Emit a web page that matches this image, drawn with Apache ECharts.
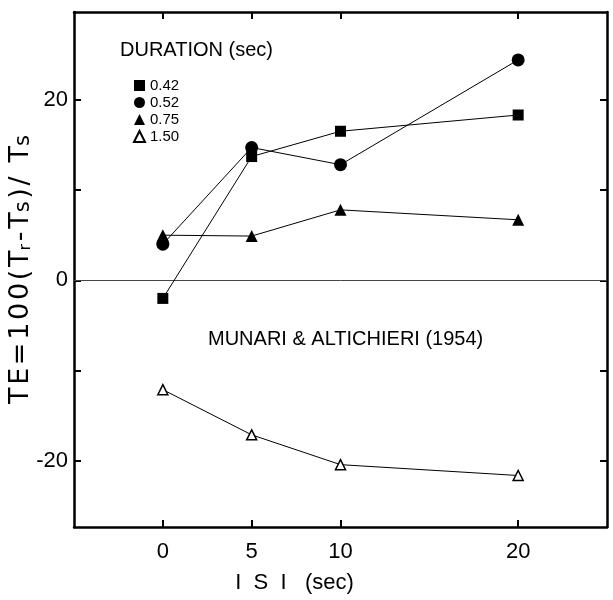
<!DOCTYPE html>
<html>
<head>
<meta charset="utf-8">
<script src="https://cdn.jsdelivr.net/npm/echarts@6/dist/echarts.min.js"></script>
<style>
  html, body { margin: 0; padding: 0; background: #fff; }
  #container { width: 613px; height: 600px; }
</style>
</head>
<body>
<div id="container"></div>
<script>
// ISI values (sec) and TE values per stimulus duration
var isi = [0, 5, 10, 20];
var d042 = [-2, 13.7, 16.5, 18.3];
var d052 = [4, 14.7, 12.8, 24.4];
var d075 = [5, 4.9, 7.8, 6.7];
var d150 = [-12.1, -17.1, -20.4, -21.6];
var durations = ['0.42', '0.52', '0.75', '1.50'];
var xTicks = [0, 5, 10, 20];
var yTicks = [-20, -10, 0, 10, 20];
var yLabels = [-20, 0, 20];

function pairs(vals) {
    return isi.map(function (x, i) { return [x, vals[i]]; });
}

// put hair spaces between letters (the original lettering is widely spaced)
function spaced(s) {
    return s.split('').join('\u200A');
}

document.addEventListener('DOMContentLoaded', function () {
    var myChart = echarts.init(document.getElementById('container'));
    var font = 'Liberation Sans';

    function line(name, vals, symbol, size, fill) {
        return {
            name: name,
            type: 'line',
            data: pairs(vals),
            symbol: symbol,
            symbolSize: size,
            showSymbol: true,
            lineStyle: { color: '#000', width: 1 },
            itemStyle: { color: fill, borderColor: '#000', borderWidth: fill === '#fff' ? 1.5 : 0 },
            emphasis: { disabled: true },
            z: 5
        };
    }

    var xBase = {
        type: 'value', min: -5, max: 25,
        splitLine: { show: false },
        axisLine: { show: true, onZero: false, lineStyle: { color: '#000', width: 2.5 } },
        axisTick: { show: true, inside: true, length: 7, customValues: xTicks, lineStyle: { color: '#000', width: 2 } }
    };
    var yBase = {
        type: 'value', min: -27.3, max: 29.7,
        splitLine: { show: false },
        axisLine: { show: true, onZero: false, lineStyle: { color: '#000', width: 2.5 } },
        axisTick: { show: true, inside: true, length: 7, customValues: yTicks, lineStyle: { color: '#000', width: 2 } }
    };

    var icons = ['rect', 'circle', 'triangle', 'triangle'];
    var yName = spaced('TE=100(T') + '{sub|r}\u200A' + spaced('-T') + '{ss|s}\u200A' +
        spaced(')/') + '\u2009 T{ss|s}';

    var option = {
        animation: false,
        backgroundColor: '#fff',
        grid: { left: 74, right: 6, top: 12, bottom: 73, outerBoundsMode: 'none' },
        legend: {
            orient: 'vertical',
            left: 133, top: 78,
            padding: 0,
            itemWidth: 11, itemHeight: 11, itemGap: 2,
            textStyle: { fontFamily: font, fontSize: 15, color: '#000' },
            data: durations.map(function (d, i) { return { name: d, icon: icons[i] }; })
        },
        xAxis: [
            Object.assign({}, xBase, {
                position: 'bottom',
                name: 'I  S  I   (sec)',
                nameLocation: 'middle',
                nameGap: 45,
                nameMoveOverlap: false,
                nameTextStyle: { fontFamily: font, fontSize: 22, color: '#000', padding: [0, 92, 0, 0] },
                axisLabel: { customValues: xTicks, margin: 14, fontFamily: font, fontSize: 22, color: '#000' }
            }),
            Object.assign({}, xBase, { position: 'top', axisLabel: { show: false } })
        ],
        yAxis: [
            Object.assign({}, yBase, {
                position: 'left',
                name: yName,
                nameLocation: 'middle',
                nameGap: 40,
                nameRotate: 90,
                nameMoveOverlap: false,
                nameTextStyle: {
                    fontFamily: 'DejaVu Sans', fontSize: 27, color: '#000',
                    rich: {
                        sub: { fontFamily: 'DejaVu Sans', fontSize: 16, color: '#000', padding: [11, 0, 0, 0] },
                        ss: { fontFamily: 'DejaVu Sans', fontSize: 21, color: '#000', padding: [6, 0, 0, 0] }
                    }
                },
                axisLabel: { customValues: yLabels, margin: 6, fontFamily: font, fontSize: 22, color: '#000' }
            }),
            Object.assign({}, yBase, { position: 'right', axisLabel: { show: false } })
        ],
        graphic: [
            {
                type: 'text', left: 120, top: 40,
                style: { text: 'DURATION (sec)', fontFamily: font, fontSize: 20, fill: '#000' }
            },
            {
                type: 'text', left: 208, top: 329,
                style: { text: 'MUNARI & ALTICHIERI (1954)', fontFamily: font, fontSize: 20, fill: '#000' }
            }
        ],
        series: [
            line('0.42', d042, 'rect', 11, '#000'),
            line('0.52', d052, 'circle', 13, '#000'),
            line('0.75', d075, 'triangle', 12, '#000'),
            line('1.50', d150, 'triangle', 10, '#fff'),
            {
                type: 'line', data: [], silent: true,
                markLine: {
                    symbol: 'none', silent: true, label: { show: false },
                    lineStyle: { color: '#444', width: 1, type: 'solid' },
                    data: [{ yAxis: 0 }]
                }
            }
        ]
    };

    myChart.setOption(option);
    window.addEventListener('resize', myChart.resize);
});
</script>
</body>
</html>
